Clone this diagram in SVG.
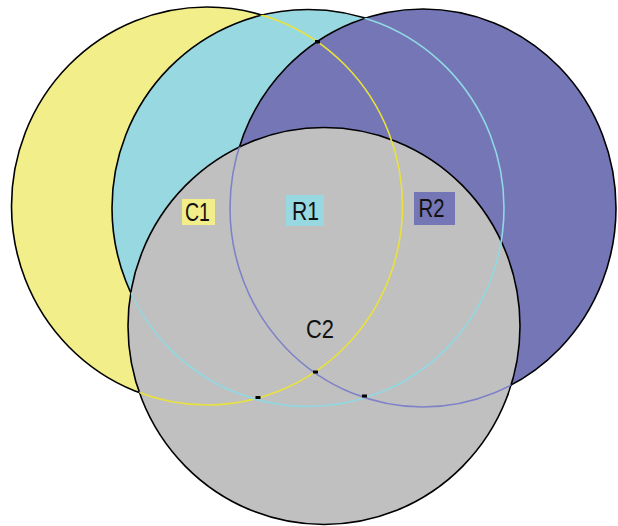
<svg xmlns="http://www.w3.org/2000/svg" width="618" height="526" viewBox="0 0 618 526">
<style>
.shape{stroke:#000;stroke-width:1.6}
.c1{fill:#F2EE8A}
.r1{fill:#98D8E0}
.r2{fill:#7476B6}
.c2{fill:#C0C0C0}
.inner{fill:none;stroke-width:1.6}
.lbl{font-family:"Liberation Sans",Arial,sans-serif;font-size:26.5px;fill:#111;text-anchor:middle}
.dot{fill:#000}
</style>
<defs>
<ellipse id="eC1" cx="207" cy="206" rx="195.5" ry="199"/>
<ellipse id="eR1" cx="308" cy="208" rx="196" ry="198.5"/>
<ellipse id="eR2" cx="423" cy="208" rx="193" ry="199"/>
<ellipse id="eC2" cx="324" cy="326" rx="196" ry="198.5"/>
<clipPath id="underC1"><use href="#eR1"/><use href="#eR2"/><use href="#eC2"/></clipPath>
<clipPath id="underR1"><use href="#eR2"/><use href="#eC2"/></clipPath>
<clipPath id="underR2"><use href="#eC2"/></clipPath>
</defs>
<rect width="618" height="526" fill="#fff"/>
<g id="C1"><use href="#eC1" class="shape c1"/></g>
<g id="R1"><use href="#eR1" class="shape r1"/></g>
<g id="R2"><use href="#eR2" class="shape r2"/></g>
<g id="C2"><use href="#eC2" class="shape c2"/></g>
<g id="inner-outlines">
<use href="#eC1" class="inner" stroke="#EAE23A" clip-path="url(#underC1)"/>
<use href="#eR1" class="inner" stroke="#90D8E2" clip-path="url(#underR1)"/>
<use href="#eR2" class="inner" stroke="#7F82C6" clip-path="url(#underR2)"/>
<rect class="dot" x="315" y="40" width="5" height="3.5"/>
<rect class="dot" x="313" y="370.5" width="5" height="3"/>
<rect class="dot" x="255.5" y="396" width="5" height="3"/>
<rect class="dot" x="362" y="394.5" width="5" height="3"/>
</g>
<g id="C1-label">
<rect x="182" y="199" width="33" height="26" class="c1"/>
<text x="197.5" y="220.8" class="lbl" textLength="25" lengthAdjust="spacingAndGlyphs">C1</text>
</g>
<g id="R1-label">
<rect x="286" y="195" width="38" height="31" class="r1"/>
<text x="305.5" y="219.5" class="lbl" textLength="27" lengthAdjust="spacingAndGlyphs">R1</text>
</g>
<g id="R2-label">
<rect x="414" y="192" width="41" height="33" class="r2"/>
<text x="431.5" y="217.3" class="lbl" textLength="26" lengthAdjust="spacingAndGlyphs">R2</text>
</g>
<g id="C2-label">
<text x="320" y="338" class="lbl" textLength="28" lengthAdjust="spacingAndGlyphs">C2</text>
</g>
</svg>
